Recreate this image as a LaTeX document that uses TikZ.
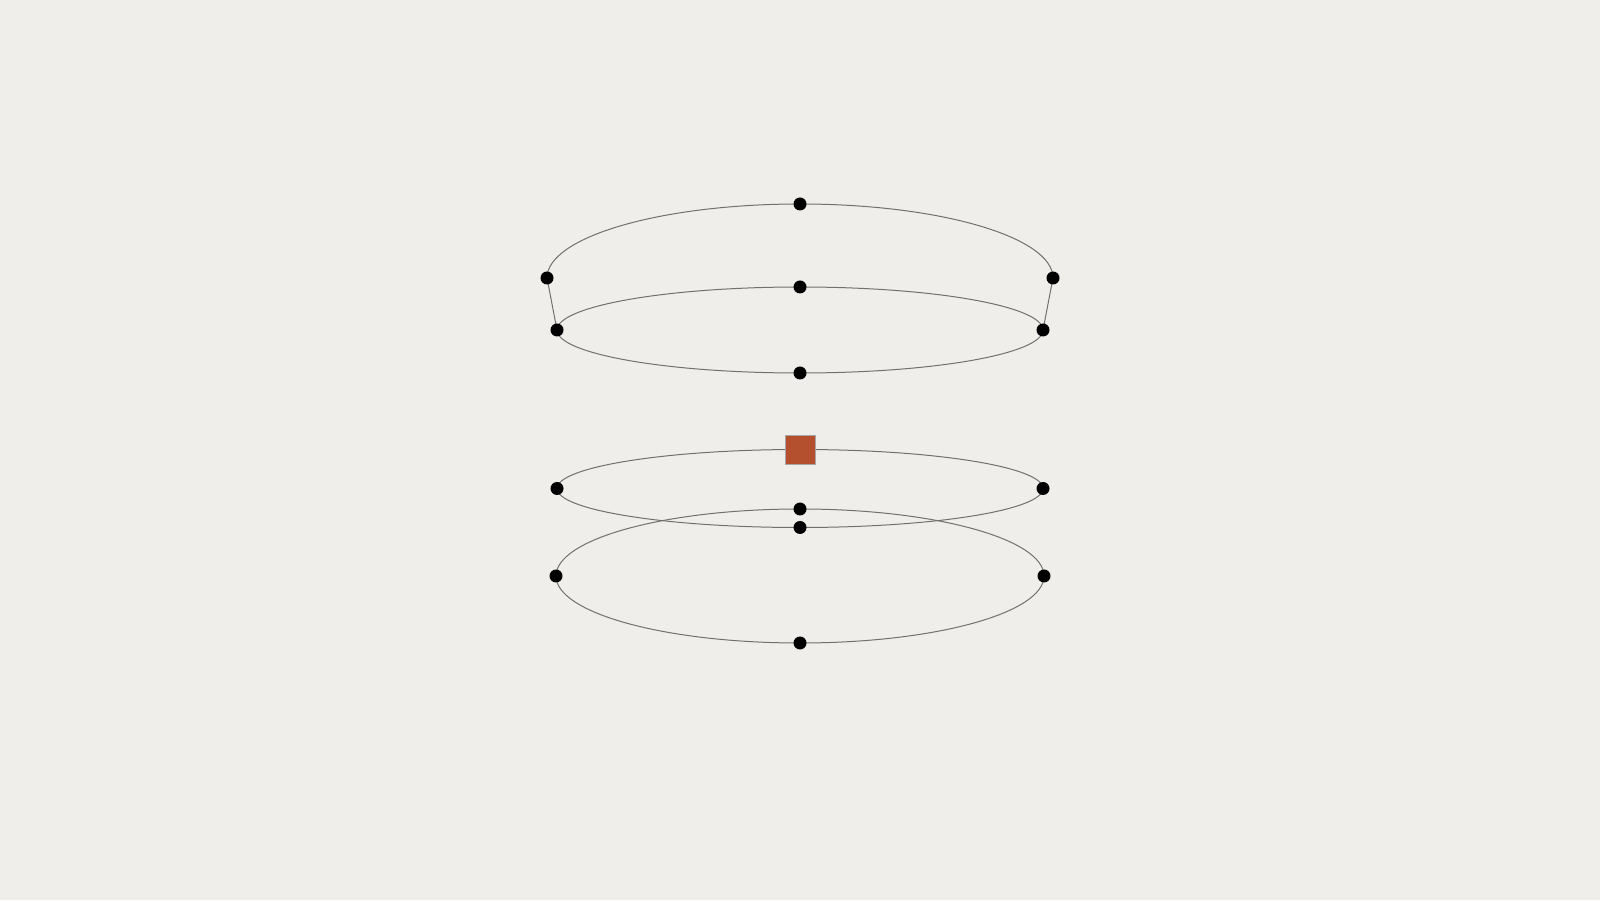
\documentclass[tikz,border=0pt]{standalone}
\usetikzlibrary{backgrounds}
\definecolor{bgc}{HTML}{F0EEEA}
\definecolor{linec}{HTML}{707070}
\definecolor{sqc}{HTML}{B5502F}
\begin{document}
\begin{tikzpicture}[x=1pt,y=1pt,
  dotnode/.style={circle,fill=black,inner sep=0pt,minimum size=13pt},
  sqnode/.style={rectangle,fill=sqc,draw=gray!70,line width=0.5pt,inner sep=0pt,minimum width=30pt,minimum height=29pt},
  ring/.style={draw=linec,line width=1pt}]
\useasboundingbox (0,0) rectangle (1600,900);
% top group
\node[dotnode] (A) at (800,696) {};
\node[dotnode] (B) at (547,622) {};
\node[dotnode] (C) at (1053,622) {};
\node[dotnode] (D) at (800,613) {};
\node[dotnode] (E) at (557,570) {};
\node[dotnode] (F) at (1043,570) {};
\node[dotnode] (G) at (800,527) {};
% bottom group
\node[sqnode] (S) at (800,450.5) {};
\node[dotnode] (H) at (557,411.5) {};
\node[dotnode] (I) at (1043,411.5) {};
\node[dotnode] (K) at (800,372.5) {};
\node[dotnode] (J) at (800,391) {};
\node[dotnode] (L) at (556,324) {};
\node[dotnode] (M) at (1044,324) {};
\node[dotnode] (N) at (800,257) {};
\begin{scope}[on background layer]
\fill[bgc] (0,0) rectangle (1600,900);
\draw[ring] (B.center) arc[start angle=180,end angle=90,x radius=253pt,y radius=74pt];
\draw[ring] (A.center) arc[start angle=90,end angle=0,x radius=253pt,y radius=74pt];
\draw[ring] (B.center) -- (E.center);
\draw[ring] (C.center) -- (F.center);
\draw[ring] (E.center) arc[start angle=180,end angle=90,x radius=243pt,y radius=43pt];
\draw[ring] (D.center) arc[start angle=90,end angle=0,x radius=243pt,y radius=43pt];
\draw[ring] (F.center) arc[start angle=0,end angle=-90,x radius=243pt,y radius=43pt];
\draw[ring] (G.center) arc[start angle=270,end angle=180,x radius=243pt,y radius=43pt];
\draw[ring] (H.center) arc[start angle=180,end angle=90,x radius=243pt,y radius=39pt];
\draw[ring] (S.center) arc[start angle=90,end angle=0,x radius=243pt,y radius=39pt];
\draw[ring] (I.center) arc[start angle=0,end angle=-90,x radius=243pt,y radius=39pt];
\draw[ring] (K.center) arc[start angle=270,end angle=180,x radius=243pt,y radius=39pt];
\draw[ring] (L.center) arc[start angle=180,end angle=90,x radius=244pt,y radius=67pt];
\draw[ring] (J.center) arc[start angle=90,end angle=0,x radius=244pt,y radius=67pt];
\draw[ring] (M.center) arc[start angle=0,end angle=-90,x radius=244pt,y radius=67pt];
\draw[ring] (N.center) arc[start angle=270,end angle=180,x radius=244pt,y radius=67pt];
\end{scope}
\end{tikzpicture}
\end{document}
